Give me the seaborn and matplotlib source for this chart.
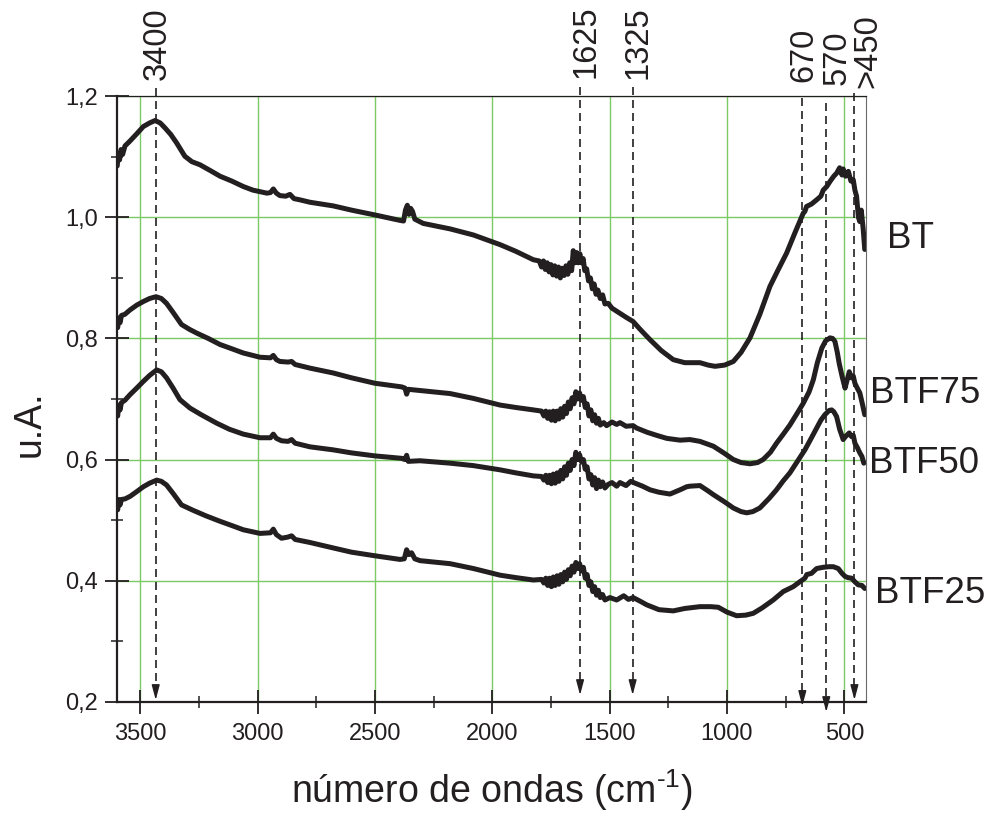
import matplotlib
matplotlib.use("Agg")
import matplotlib.pyplot as plt
import numpy as np
import pandas as pd
import seaborn as sns
from matplotlib.ticker import FixedLocator

# ---------------- data: (wavenumber, u.A.) ----------------
bt_points = [
    (3598, 1.085), (3594, 1.105), (3588, 1.095), (3582, 1.112), (3575, 1.104), (3565, 1.118),
    (3544, 1.126), (3515, 1.138), (3487, 1.150), (3460, 1.156), (3437, 1.160), (3415, 1.156),
    (3395, 1.148), (3370, 1.137), (3345, 1.123), (3310, 1.101), (3280, 1.092), (3246, 1.087),
    (3200, 1.077), (3160, 1.068), (3110, 1.060), (3061, 1.051), (3020, 1.045), (2997, 1.043),
    (2960, 1.040), (2945, 1.041), (2933, 1.047), (2920, 1.040), (2905, 1.036), (2880, 1.035),
    (2862, 1.038), (2845, 1.031), (2820, 1.029), (2777, 1.025), (2678, 1.019), (2600, 1.012),
    (2500, 1.004), (2440, 0.999), (2393, 0.995), (2378, 0.994), (2370, 1.012), (2362, 1.020),
    (2355, 1.005), (2348, 1.015), (2340, 1.010), (2330, 0.997), (2294, 0.990), (2180, 0.981),
    (2081, 0.971), (1967, 0.955), (1900, 0.944), (1825, 0.930),
    (1800, 0.928), (1790, 0.918), (1782, 0.928), (1774, 0.914), (1766, 0.925), (1758, 0.910),
    (1750, 0.922), (1742, 0.905), (1734, 0.920), (1726, 0.903), (1718, 0.918), (1710, 0.900),
    (1702, 0.916), (1694, 0.904), (1686, 0.920), (1678, 0.906), (1670, 0.925), (1662, 0.912),
    (1655, 0.945), (1648, 0.925), (1641, 0.942), (1634, 0.925), (1627, 0.940), (1620, 0.925),
    (1613, 0.932), (1606, 0.912), (1598, 0.915), (1590, 0.895), (1582, 0.900), (1574, 0.882),
    (1566, 0.890), (1558, 0.873), (1550, 0.880), (1540, 0.866), (1530, 0.872), (1520, 0.857),
    (1506, 0.858), (1490, 0.850), (1470, 0.845), (1450, 0.840), (1430, 0.835), (1400, 0.828),
    (1370, 0.815), (1328, 0.798), (1280, 0.780), (1229, 0.765), (1180, 0.760), (1115, 0.760),
    (1080, 0.756), (1051, 0.754), (1010, 0.756), (973, 0.762), (940, 0.777), (902, 0.801),
    (860, 0.840), (817, 0.886), (780, 0.915), (746, 0.941), (710, 0.975), (675, 1.007),
    (668, 1.010), (661, 1.018), (640, 1.022), (618, 1.029), (600, 1.035), (590, 1.045),
    (575, 1.051), (560, 1.060), (545, 1.068), (533, 1.073), (520, 1.082), (510, 1.070),
    (505, 1.080), (495, 1.068), (483, 1.076), (472, 1.060), (462, 1.062), (455, 1.045),
    (448, 1.035), (440, 1.000), (434, 0.993), (428, 1.012), (420, 0.982), (413, 0.947)]

btf75_points = [
    (3596, 0.818), (3592, 0.834), (3586, 0.826), (3580, 0.838), (3565, 0.840), (3544, 0.847),
    (3515, 0.855), (3487, 0.861), (3460, 0.866), (3433, 0.869), (3410, 0.866), (3388, 0.858),
    (3360, 0.843), (3324, 0.823), (3290, 0.815), (3260, 0.809), (3210, 0.800), (3160, 0.790),
    (3110, 0.783), (3061, 0.776), (2990, 0.769), (2945, 0.768), (2933, 0.772), (2920, 0.765),
    (2905, 0.762), (2870, 0.761), (2855, 0.762), (2840, 0.757), (2777, 0.751), (2678, 0.743),
    (2600, 0.735), (2500, 0.726), (2386, 0.720), (2372, 0.718), (2365, 0.708), (2358, 0.716),
    (2308, 0.714), (2180, 0.709), (2081, 0.701), (1967, 0.690), (1900, 0.686), (1825, 0.682),
    (1790, 0.680), (1780, 0.672), (1772, 0.680), (1764, 0.668), (1756, 0.679), (1748, 0.665),
    (1740, 0.680), (1732, 0.664), (1724, 0.680), (1716, 0.667), (1708, 0.684), (1700, 0.670),
    (1692, 0.688), (1684, 0.676), (1676, 0.695), (1668, 0.684), (1660, 0.702), (1652, 0.692),
    (1644, 0.712), (1636, 0.700), (1628, 0.710), (1620, 0.698), (1612, 0.704), (1604, 0.686),
    (1596, 0.692), (1588, 0.672), (1580, 0.682), (1572, 0.664), (1564, 0.674), (1556, 0.660),
    (1548, 0.668), (1540, 0.657), (1525, 0.661), (1513, 0.656), (1490, 0.662), (1470, 0.658),
    (1456, 0.661), (1430, 0.655), (1400, 0.656), (1385, 0.652), (1340, 0.645), (1300, 0.640),
    (1257, 0.635), (1200, 0.632), (1158, 0.633), (1115, 0.630), (1058, 0.622), (1010, 0.610),
    (973, 0.600), (940, 0.595), (902, 0.593), (870, 0.595), (846, 0.600), (815, 0.612),
    (789, 0.627), (760, 0.642), (732, 0.657), (700, 0.677), (675, 0.693), (650, 0.712),
    (632, 0.732), (615, 0.760), (596, 0.784), (580, 0.796), (561, 0.801), (550, 0.800),
    (540, 0.795), (530, 0.777), (522, 0.759), (510, 0.738), (497, 0.718), (489, 0.730),
    (479, 0.745), (470, 0.735), (462, 0.738), (455, 0.726), (445, 0.718), (434, 0.710),
    (425, 0.695), (413, 0.674)]

btf50_points = [
    (3596, 0.672), (3592, 0.690), (3586, 0.682), (3580, 0.694), (3565, 0.698), (3544, 0.707),
    (3515, 0.718), (3487, 0.729), (3460, 0.739), (3430, 0.748), (3410, 0.745), (3388, 0.735),
    (3360, 0.718), (3331, 0.699), (3288, 0.685), (3240, 0.674), (3174, 0.660), (3120, 0.650),
    (3061, 0.642), (2990, 0.636), (2945, 0.636), (2933, 0.642), (2920, 0.635), (2898, 0.631),
    (2870, 0.630), (2855, 0.633), (2840, 0.627), (2777, 0.621), (2678, 0.616), (2600, 0.611),
    (2500, 0.606), (2386, 0.602), (2372, 0.600), (2365, 0.607), (2358, 0.597), (2308, 0.598),
    (2180, 0.594), (2081, 0.590), (1967, 0.583), (1900, 0.578), (1825, 0.573),
    (1790, 0.572), (1780, 0.566), (1772, 0.574), (1764, 0.562), (1756, 0.574), (1748, 0.560),
    (1740, 0.576), (1732, 0.561), (1724, 0.578), (1716, 0.564), (1708, 0.582), (1700, 0.568),
    (1692, 0.588), (1684, 0.574), (1676, 0.594), (1668, 0.582), (1660, 0.600), (1652, 0.590),
    (1644, 0.612), (1636, 0.600), (1628, 0.608), (1620, 0.596), (1612, 0.600), (1604, 0.584),
    (1596, 0.588), (1588, 0.568), (1580, 0.575), (1572, 0.558), (1564, 0.570), (1556, 0.552),
    (1548, 0.566), (1540, 0.555), (1530, 0.563), (1520, 0.553), (1506, 0.559), (1490, 0.562),
    (1470, 0.556), (1456, 0.562), (1430, 0.557), (1410, 0.564), (1392, 0.561), (1360, 0.556),
    (1328, 0.550), (1290, 0.546), (1243, 0.543), (1200, 0.550), (1172, 0.555), (1158, 0.556),
    (1115, 0.557), (1080, 0.548), (1058, 0.542), (1010, 0.530), (973, 0.520), (940, 0.514),
    (916, 0.512), (890, 0.514), (860, 0.520), (820, 0.536), (789, 0.550), (760, 0.565),
    (732, 0.578), (700, 0.597), (668, 0.616), (640, 0.636), (618, 0.652), (600, 0.665),
    (583, 0.674), (565, 0.681), (554, 0.682), (545, 0.679), (533, 0.671), (520, 0.650),
    (505, 0.633), (495, 0.638), (479, 0.644), (470, 0.638), (462, 0.640), (455, 0.627),
    (445, 0.620), (434, 0.611), (425, 0.605), (417, 0.594)]

btf25_points = [
    (3596, 0.517), (3592, 0.534), (3586, 0.525), (3580, 0.534), (3565, 0.535), (3544, 0.539),
    (3515, 0.547), (3487, 0.555), (3460, 0.561), (3430, 0.566), (3410, 0.564), (3388, 0.558),
    (3360, 0.544), (3324, 0.525), (3274, 0.516), (3220, 0.507), (3160, 0.498), (3110, 0.491),
    (3061, 0.484), (2990, 0.478), (2945, 0.479), (2933, 0.485), (2920, 0.476), (2898, 0.470),
    (2870, 0.472), (2855, 0.474), (2840, 0.468), (2777, 0.463), (2678, 0.454), (2600, 0.447),
    (2500, 0.441), (2393, 0.435), (2375, 0.436), (2365, 0.451), (2355, 0.443), (2344, 0.446),
    (2330, 0.436), (2308, 0.433), (2180, 0.428), (2081, 0.420), (1967, 0.409), (1900, 0.405),
    (1825, 0.401),
    (1790, 0.402), (1780, 0.396), (1772, 0.404), (1764, 0.392), (1756, 0.404), (1748, 0.390),
    (1740, 0.406), (1732, 0.392), (1724, 0.408), (1716, 0.394), (1708, 0.410), (1700, 0.398),
    (1692, 0.414), (1684, 0.402), (1676, 0.418), (1668, 0.408), (1660, 0.424), (1652, 0.414),
    (1644, 0.430), (1636, 0.420), (1628, 0.428), (1620, 0.416), (1612, 0.422), (1604, 0.404),
    (1596, 0.410), (1588, 0.392), (1580, 0.398), (1572, 0.382), (1564, 0.390), (1556, 0.376),
    (1548, 0.384), (1540, 0.372), (1530, 0.377), (1520, 0.368), (1499, 0.372), (1470, 0.368),
    (1440, 0.375), (1420, 0.369), (1400, 0.372), (1370, 0.366), (1342, 0.360), (1290, 0.352),
    (1229, 0.350), (1180, 0.354), (1115, 0.357), (1070, 0.357), (1037, 0.356), (1000, 0.348),
    (959, 0.342), (920, 0.343), (888, 0.346), (850, 0.355), (803, 0.368), (760, 0.382),
    (718, 0.390), (690, 0.398), (668, 0.404), (660, 0.410), (640, 0.412), (618, 0.420),
    (590, 0.422), (565, 0.423), (547, 0.423), (526, 0.420), (510, 0.412), (497, 0.407),
    (485, 0.405), (469, 0.404), (455, 0.398), (441, 0.393), (425, 0.392), (413, 0.387)]

sample_names = ["BT", "BTF75", "BTF50", "BTF25"]
sample_label_x = [318, 391, 395, 370]
sample_label_y = [0.9496, 0.6938, 0.578, 0.3631]

peak_labels = ["3400", "1625", "1325", "670", "570", ">450"]
peak_pos = [3434, 1626, 1402, 679, 577, 457]
peak_text_pos = [3426, 1601, 1379, 672, 532, 399]
peak_text_y = [1.2276, 1.2309, 1.2293, 1.2243, 1.2193, 1.2144]
peak_line_top = [1.2144, 1.216, 1.216, 1.1978, 1.1896, 1.2061]
peak_tip = [0.2028, 0.211, 0.211, 0.193, 0.183, 0.2028]

x_major = [3500, 3000, 2500, 2000, 1500, 1000, 500]
x_major_labels = ["3500", "3000", "2500", "2000", "1500", "1000", "500"]
x_minor = [3250, 2750, 2250, 1750, 1250, 750]
y_major = [0.2, 0.4, 0.6, 0.8, 1.0, 1.2]
y_major_labels = ["0,2", "0,4", "0,6", "0,8", "1,0", "1,2"]
y_minor = [0.3, 0.5, 0.7, 0.9, 1.1]

# ---------------- style ----------------
sns.set_theme(style="white")
plt.rcParams["font.family"] = ["Liberation Sans", "DejaVu Sans"]
plt.rcParams["mathtext.fontset"] = "custom"
plt.rcParams["mathtext.rm"] = "Liberation Sans"
plt.rcParams["mathtext.default"] = "regular"

INK = "#231f20"
GREEN = "#7cca64"

frames = []
for name, pts in zip(sample_names, [bt_points, btf75_points, btf50_points, btf25_points]):
    xs, ys = zip(*pts)
    frames.append(pd.DataFrame({"wavenumber": xs, "absorbance": ys, "sample": name}))
df = pd.concat(frames, ignore_index=True)

fig = plt.figure(figsize=(9.96, 8.19), dpi=100)
ax = fig.add_axes([117 / 996, 1 - 701.7 / 819, (865.7 - 117) / 996, (701.7 - 96.3) / 819])

sns.lineplot(data=df, x="wavenumber", y="absorbance", units="sample", estimator=None,
             color=INK, lw=3.6, legend=False, ax=ax, zorder=3)

ax.set_xlim(3599, 409)
ax.set_ylim(0.2, 1.2)
ax.set_xlabel("")
ax.set_ylabel("")

ax.xaxis.set_major_locator(FixedLocator(x_major))
ax.set_xticklabels(x_major_labels)
ax.xaxis.set_minor_locator(FixedLocator(x_minor))
ax.yaxis.set_major_locator(FixedLocator(y_major))
ax.set_yticklabels(y_major_labels)
ax.yaxis.set_minor_locator(FixedLocator(y_minor))

ax.tick_params(which="major", direction="inout", length=17, width=1.3, color=INK,
               labelsize=17, labelcolor=INK, bottom=True, left=True, top=False, right=False)
ax.tick_params(which="minor", direction="inout", length=8, width=1.1, color=INK,
               bottom=True, left=True, top=False, right=False)
ax.tick_params(axis="x", which="major", pad=7)
ax.tick_params(axis="y", which="major", pad=5)

ax.grid(True, which="major", color=GREEN, lw=1.0)
ax.set_axisbelow(True)

for side in ["left", "bottom"]:
    ax.spines[side].set_color(INK)
    ax.spines[side].set_linewidth(1.6)
ax.spines["top"].set_color(INK)
ax.spines["top"].set_linewidth(0.9)
ax.spines["right"].set_color("#6a6a6a")
ax.spines["right"].set_linewidth(0.8)
for s in ax.spines.values():
    s.set_zorder(4)

# peak markers: dashed lines with arrow heads
for lab, xp, xt, yt, ytop, ytip in zip(peak_labels, peak_pos, peak_text_pos, peak_text_y,
                                        peak_line_top, peak_tip):
    ax.plot([xp, xp], [ytop, ytip + 0.02], color=INK, lw=1.2,
            linestyle=(0, (4.8, 3.0)), clip_on=False, zorder=2)
    ax.annotate("", xy=(xp, ytip), xytext=(xp, ytip + 0.024),
                arrowprops=dict(arrowstyle="-|>,head_length=0.45,head_width=0.12",
                                color=INK, lw=1.0, shrinkA=0, shrinkB=0, mutation_scale=20),
                annotation_clip=False, zorder=2)
    ax.text(xt, yt, lab, rotation=90, ha="center", va="bottom", fontsize=23.5,
            color=INK, clip_on=False)

# sample names
for name, lx, ly in zip(sample_names, sample_label_x, sample_label_y):
    ax.text(lx, ly, name, ha="left", va="baseline", fontsize=26.5, color=INK, clip_on=False)

fig.text(491.5 / 996, 1 - 803 / 819, "número de ondas (cm$^{\u2010 1}$)", ha="center",
         va="baseline", fontsize=27, color=INK)
fig.text(30 / 996, 1 - 424 / 819, "u.A.", rotation=90, ha="center", va="center",
         fontsize=27, color=INK)

fig.savefig("out.png", dpi=100)
